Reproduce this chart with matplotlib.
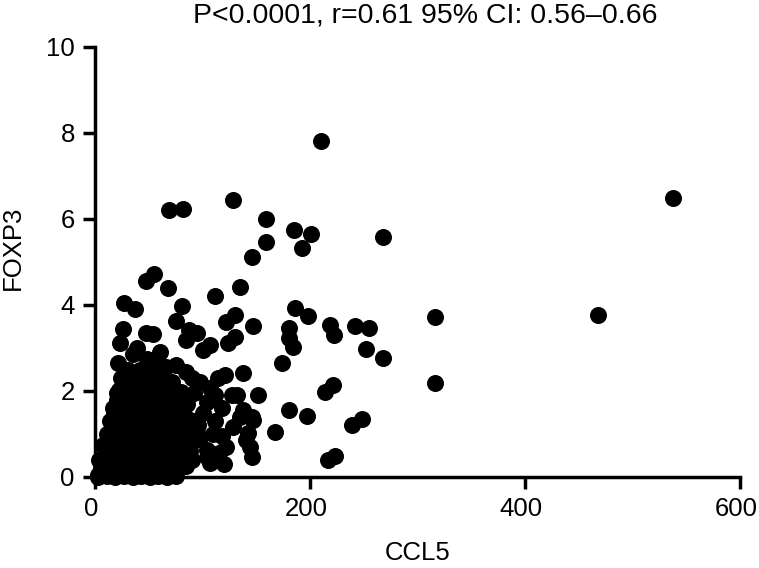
import matplotlib.pyplot as plt
import matplotlib.transforms as mtransforms
import numpy as np

plt.rcParams["font.family"] = ["Liberation Sans", "DejaVu Sans"]

# 读图估计的数据 (CCL5, FOXP3)
# 上方 / 右侧的稀疏点
sparse_points = [
    (210, 7.82), (538, 6.50), (468, 3.77), (128, 6.44), (69, 6.22), (82, 6.24),
    (159, 6.00), (159, 5.46), (146, 5.12), (185, 5.74), (201, 5.65), (193, 5.33),
    (268, 5.57), (55, 4.71), (47, 4.55), (68, 4.40), (112, 4.21), (135, 4.42),
    (27, 4.05), (37, 3.90), (81, 3.98), (75, 3.63), (26, 3.45), (147, 3.51),
    (122, 3.60), (130, 3.76), (186, 3.92), (198, 3.74), (180, 3.47), (219, 3.53),
    (222, 3.30), (87, 3.42), (47, 3.35), (54, 3.33), (95, 3.35), (316, 3.72),
    (255, 3.47), (242, 3.51), (252, 2.98), (268, 2.77), (316, 2.18), (184, 3.02),
    (180, 3.23), (174, 2.65), (214, 1.98), (221, 2.14), (239, 1.21), (248, 1.35),
    (197, 1.42), (180, 1.56), (167, 1.05), (217, 0.40), (223, 0.48),
]

# 团块边缘的点
middle_points = [
    (23, 3.12), (39, 3.00), (21, 2.65), (85, 3.18), (100, 2.95), (107, 3.07),
    (124, 3.12), (130, 3.26), (121, 2.37), (138, 2.43), (107, 2.07), (127, 1.90),
    (152, 1.90), (138, 1.56), (146, 1.40), (112, 1.30), (128, 1.16), (140, 0.86),
    (144, 0.70), (146, 0.47), (104, 0.47), (107, 0.33), (93, 0.86), (98, 0.93),
    (104, 0.63), (90, 0.40), (142, 1.02), (135, 1.40), (147, 1.33), (132, 1.90),
    (35, 2.85), (48, 2.75), (60, 2.90), (66, 2.55), (75, 2.60), (85, 2.45),
    (58, 2.62), (42, 2.50), (52, 2.42), (90, 2.30), (98, 2.20), (104, 1.75),
    (100, 1.50), (96, 1.20), (110, 1.00), (118, 0.95), (122, 0.70), (115, 0.55),
    (120, 0.30), (118, 1.60), (112, 1.90), (114, 2.30),
    (3, 0.05), (4, 0.40), (7, 0.75), (11, 1.00), (14, 1.30), (17, 1.60),
    (20, 1.95), (24, 2.30),
]

# 原点附近的密集团块
dense_points = [
    (3, 0.00), (11, 0.02), (19, 0.00), (27, 0.03), (35, 0.00), (43, 0.02),
    (51, 0.00), (59, 0.03), (67, 0.00), (75, 0.02),
    (6, 0.22), (14, 0.27), (22, 0.20), (30, 0.28), (38, 0.24), (46, 0.20),
    (54, 0.27), (62, 0.22), (70, 0.29), (78, 0.20), (85, 0.25),
    (8, 0.50), (16, 0.46), (24, 0.53), (32, 0.48), (40, 0.55), (48, 0.47),
    (56, 0.52), (64, 0.45), (72, 0.54), (80, 0.49), (88, 0.60),
    (10, 0.78), (18, 0.72), (26, 0.80), (34, 0.74), (42, 0.77), (50, 0.71),
    (58, 0.79), (66, 0.73), (74, 0.80), (82, 0.75),
    (13, 1.02), (21, 0.97), (29, 1.05), (37, 0.99), (45, 1.03), (53, 0.96),
    (61, 1.04), (69, 0.98), (77, 1.06), (86, 1.00),
    (16, 1.27), (24, 1.22), (32, 1.30), (40, 1.24), (48, 1.28), (56, 1.21),
    (64, 1.29), (72, 1.23), (80, 1.27), (88, 1.33),
    (18, 1.52), (26, 1.47), (34, 1.55), (42, 1.49), (50, 1.53), (58, 1.46),
    (66, 1.54), (74, 1.48), (82, 1.52),
    (20, 1.78), (28, 1.72), (36, 1.80), (44, 1.74), (52, 1.77), (60, 1.71),
    (68, 1.79), (76, 1.73), (86, 1.70),
    (22, 2.02), (30, 1.97), (38, 2.05), (46, 1.99), (54, 2.03), (62, 1.96),
    (70, 2.04), (80, 1.98), (92, 1.95),
    (26, 2.27), (35, 2.22), (44, 2.30), (53, 2.24), (62, 2.28), (72, 2.21),
    (31, 2.50), (56, 2.48),
]

points = np.array(sparse_points + middle_points + dense_points, dtype=float)
ccl5 = points[:, 0]
foxp3 = points[:, 1]

x_ticks = [0, 200, 400, 600]
y_ticks = [0, 2, 4, 6, 8, 10]

fig = plt.figure(figsize=(7.59, 5.68), dpi=100)
ax = fig.add_axes([95 / 759, 1 - 477 / 568, 645 / 759, 430 / 568])

ax.scatter(ccl5, foxp3, s=150, color="black", linewidths=0, clip_on=False, zorder=3)

ax.set_xlim(0, 600)
ax.set_ylim(0, 10)
ax.set_xticks(x_ticks)
ax.set_yticks(y_ticks)

for side in ["top", "right"]:
    ax.spines[side].set_visible(False)
for side in ["left", "bottom"]:
    ax.spines[side].set_linewidth(2.5)

ax.tick_params(axis="both", direction="out", length=8.5, width=2.5, labelsize=18.5, pad=6)

# x 刻度标签略向左移
shift = mtransforms.ScaledTranslation(-4 / 100, 0, fig.dpi_scale_trans)
for lbl in ax.get_xticklabels():
    lbl.set_transform(lbl.get_transform() + shift)

ax.set_xlabel("CCL5", fontsize=18.5, labelpad=14)
fig.text(13 / 759, 1 - 248 / 568, "FOXP3", rotation=90, ha="center", va="center", fontsize=18.5)
fig.text(425 / 759, 1 - 15 / 568, "P<0.0001, r=0.61 95% CI: 0.56\u20130.66",
         ha="center", va="center", fontsize=20.5)

fig.savefig("out.png", dpi=100)
